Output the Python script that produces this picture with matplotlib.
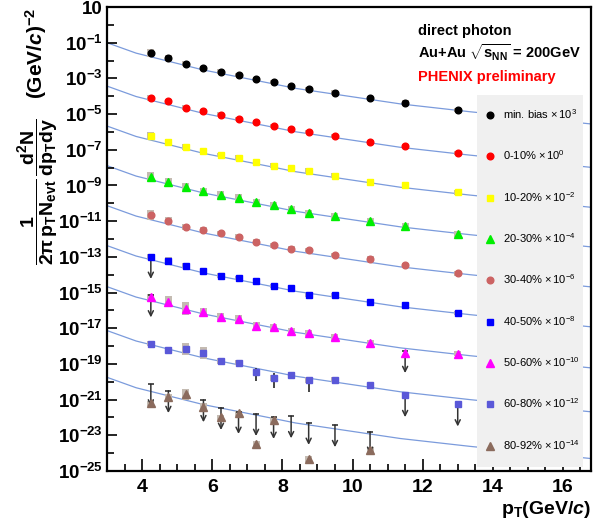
import numpy as np
import matplotlib.pyplot as plt
from matplotlib.patches import Rectangle
from matplotlib.ticker import FixedLocator, FuncFormatter, MultipleLocator, NullFormatter

plt.rcParams['font.family'] = ['Liberation Sans', 'DejaVu Sans']
plt.rcParams['font.weight'] = 'bold'
plt.rcParams['mathtext.fontset'] = 'custom'
plt.rcParams['mathtext.rm'] = 'Liberation Sans:bold'
plt.rcParams['mathtext.bf'] = 'Liberation Sans:bold'
plt.rcParams['mathtext.it'] = 'Liberation Sans:italic:bold'
plt.rcParams['mathtext.default'] = 'rm'

# pT bin centres (GeV/c)
pt = [4.25, 4.75, 5.25, 5.75, 6.25, 6.75, 7.25, 7.75, 8.25, 8.75, 9.5, 10.5, 11.5, 13.0]

labels = ['min. bias', '0-10%', '10-20%', '20-30%', '30-40%', '40-50%', '50-60%', '60-80%', '80-92%']
scale_exp = [3, 0, -2, -4, -6, -8, -10, -12, -14]
colors = ['black', '#ff0000', '#ffff00', '#00ee00', '#cc6363', '#0000ff', '#ff00ff', '#5a58d8', '#8b6b5d']
markers = ['o', 'o', 's', '^', 'o', 's', '^', 's', '^']

# scaled invariant yields
y_mb = [2.6e-2, 1.35e-2, 6.5e-3, 3.8e-3, 2.4e-3, 1.55e-3, 9.3e-4, 6.0e-4, 3.9e-4, 2.6e-4, 1.6e-4, 7.8e-5, 4.4e-5, 1.7e-5]
y_0010 = [7.8e-5, 5.2e-5, 2.3e-5, 1.4e-5, 9.3e-6, 5.5e-6, 3.6e-6, 2.2e-6, 1.5e-6, 9.5e-7, 5.7e-7, 2.6e-7, 1.6e-7, 6.3e-8]
y_1020 = [5.9e-7, 2.7e-7, 1.4e-7, 8.5e-8, 5.1e-8, 3.6e-8, 2.1e-8, 1.3e-8, 9.2e-9, 6.8e-9, 3.5e-9, 1.6e-9, 1.0e-9, 4.2e-10]
y_2030 = [3.1e-9, 1.6e-9, 8.5e-10, 4.7e-10, 2.9e-10, 2.1e-10, 1.2e-10, 8.1e-11, 5.0e-11, 2.8e-11, 1.95e-11, 1.07e-11, 5.4e-12, 1.9e-12]
y_3040 = [2.2e-11, 1.07e-11, 4.9e-12, 3.2e-12, 2.2e-12, 1.35e-12, 7.1e-13, 4.5e-13, 2.9e-13, 2.4e-13, 1.28e-13, 7.9e-14, 3.4e-14, 1.2e-14]
y_4050 = [1.02e-13, 5.9e-14, 3.2e-14, 1.62e-14, 8.9e-15, 6.6e-15, 4.3e-15, 2.4e-15, 1.8e-15, 7.3e-16, 7.6e-16, 3.0e-16, 2.0e-16, 7.2e-17]
y_5060 = [5.5e-16, 3.0e-16, 1.26e-16, 8.1e-17, 4.5e-17, 3.3e-17, 1.35e-17, 1.14e-17, 6.8e-18, 5.6e-18, 3.1e-18, 1.56e-18, 4.0e-19, 3.8e-19]
y_6080 = [1.38e-18, 6.0e-19, 6.9e-19, 4.1e-19, 1.47e-19, 1.2e-19, 3.4e-20, 1.65e-20, 2.5e-20, 1.23e-20, 1.32e-20, 6.4e-21, 1.83e-21, 5.5e-22]
y_8092 = [6.3e-22, 1.35e-21, 2.0e-21, 4.1e-22, 1.03e-22, 1.73e-22, 3.3e-24, 7.3e-23, np.nan, 4.6e-25, np.nan, 1.5e-24, np.nan, np.nan]
yields = [y_mb, y_0010, y_1020, y_2030, y_3040, y_4050, y_5060, y_6080, y_8092]

# systematic box half-heights (decades)
syst_mb = [0.22, 0.16, 0.14, 0.12, 0.12, 0.12, 0.12, 0.12, 0.12, 0.12, 0.12, 0.12, 0.12, 0.12]
syst_0010 = [0.18, 0.15, 0.13, 0.12, 0.12, 0.12, 0.12, 0.12, 0.12, 0.12, 0.12, 0.12, 0.12, 0.12]
syst_1020 = [0.22, 0.18, 0.16, 0.14, 0.13, 0.13, 0.13, 0.13, 0.13, 0.13, 0.13, 0.13, 0.13, 0.13]
syst_2030 = [0.25, 0.22, 0.2, 0.2, 0.2, 0.2, 0.18, 0.16, 0.15, 0.15, 0.15, 0.15, 0.15, 0.15]
syst_3040 = [0.28, 0.2, 0.16, 0.14, 0.13, 0.13, 0.13, 0.13, 0.13, 0.13, 0.13, 0.13, 0.13, 0.13]
syst_4050 = [0.15, 0.22, 0.15, 0.12, 0.12, 0.12, 0.12, 0.12, 0.12, 0.12, 0.12, 0.12, 0.12, 0.12]
syst_5060 = [0.2, 0.31, 0.36, 0.23, 0.22, 0.2, 0.2, 0.2, 0.18, 0.18, 0.18, 0.16, 0.0, 0.16]
syst_6080 = [0.15, 0.15, 0.32, 0.31, 0.15, 0.15, 0.15, 0.15, 0.15, 0.15, 0.15, 0.15, 0.0, 0.0]
syst_8092 = [0.15, 0.2, 0.3, 0.2, 0.15, 0.15, 0.15, 0.15, 0.0, 0.15, 0.0, 0.15, 0.0, 0.0]
systs = [syst_mb, syst_0010, syst_1020, syst_2030, syst_3040, syst_4050, syst_5060, syst_6080, syst_8092]

# upper limits (x, top of arrow)
ul_x = [4.25, 4.25, 11.5, 11.5, 13.0,
        4.25, 4.75, 5.75, 6.25, 6.75, 7.25, 7.75, 8.25, 8.75, 9.5, 10.5]
ul_top = [1.02e-13, 7.1e-16, 5.4e-19, 1.83e-21, 5.5e-22,
          7.2e-21, 3.1e-21, 9.5e-22, 3.5e-22, 2.1e-22, 1.6e-22, 1.1e-22, 1.2e-22, 5.1e-23, 3.8e-23, 1.6e-23]

# 60-80% statistical error bars
err_x = [7.25, 7.75, 8.25, 8.75]
err_lo = [1.15e-20, 4.4e-21, 1.4e-20, 2.7e-21]
err_hi = [6.0e-20, 3.0e-20, 3.7e-20, 1.95e-20]

# fit curve for min. bias, and relative scale of the other classes
fit_x = [3.0, 3.83, 5.75, 7.75, 8.38, 11.37, 13.35, 16.8]
fit_mb = [1.0e-1, 2.6e-2, 2.95e-3, 4.9e-4, 2.75e-4, 3.7e-5, 1.35e-5, 2.8e-6]
fit_scale = [1, 3.7e-3, 2.14e-5, 1.29e-7, 7.4e-10, 4.27e-12, 2.14e-14, 7.4e-17, 1.78e-19]

fig = plt.figure(figsize=(6.03, 5.25), dpi=100)
ax = fig.add_axes([107 / 603, 54 / 525, 484 / 603, 464 / 525])
ax.set_yscale('log')
ax.set_xlim(3, 16.8)
ax.set_ylim(1e-25, 10)

for s in fit_scale:
    ax.plot(fit_x, np.array(fit_mb) * s, color='#7b9bdc', lw=0.9, zorder=1)

handles = []
for i in range(len(labels)):
    y = np.array(yields[i])
    h = np.array(systs[i])
    ok = ~np.isnan(y) & (h > 0)
    lo = y * 10 ** (-h)
    hi = y * 10 ** h
    ax.bar(np.array(pt)[ok], (hi - lo)[ok], bottom=lo[ok], width=0.2, color='#c4bbb2', zorder=2)
    ms = {'^': 5.5, 's': 5.0, 'o': 4.8}[markers[i]]
    line, = ax.plot(pt, y, ls='none', marker=markers[i], ms=ms, color=colors[i], mec=colors[i], zorder=4,
                    label=r'%s $\mathregular{\times\,10^{%d}}$' % (labels[i], scale_exp[i]))
    handles.append(line)

ax.vlines(err_x, err_lo, err_hi, color='0.15', lw=1.2, zorder=3)
for x, top in zip(ul_x, ul_top):
    ax.annotate('', xy=(x, top), xytext=(0, -16), textcoords='offset points',
                arrowprops=dict(arrowstyle='<-', color='0.2', lw=1.1, shrinkA=0, shrinkB=0,
                                mutation_scale=9), zorder=3)
ax.plot(ul_x, ul_top, ls='none', marker='_', ms=5, mew=1.1, color='0.15', zorder=3)

# axes styling
ax.yaxis.set_major_locator(FixedLocator(10.0 ** np.arange(-25, 2, 2)))
ax.yaxis.set_minor_locator(FixedLocator(10.0 ** np.arange(-24, 1, 2)))
ax.yaxis.set_minor_formatter(NullFormatter())


def yfmt(v, pos):
    e = int(round(np.log10(v)))
    if e == 1:
        return '10'
    return r'$\mathregular{10^{%d}}$' % e


ax.yaxis.set_major_formatter(FuncFormatter(yfmt))
ax.xaxis.set_major_locator(MultipleLocator(2))
ax.xaxis.set_minor_locator(MultipleLocator(0.5))
ax.tick_params(which='both', direction='in', top=False, right=False, width=1.2)
ax.tick_params(axis='y', which='major', length=7, labelsize=13.5, pad=3)
ax.tick_params(axis='y', which='minor', length=5)
ax.tick_params(axis='x', which='major', length=9, labelsize=14, pad=6)
ax.tick_params(axis='x', which='minor', length=5)
for sp in ax.spines.values():
    sp.set_linewidth(1.6)

# legend panel
ax.add_patch(Rectangle((477 / 603, 58 / 525), 106 / 603, 372 / 525, transform=fig.transFigure,
                       facecolor='#f0f0f0', edgecolor='none', zorder=5, clip_on=False))
leg = ax.legend(handles=handles, loc='upper left', bbox_to_anchor=(484.5 / 603, 1 - 107 / 525),
                bbox_transform=fig.transFigure, frameon=False, borderpad=0, borderaxespad=0,
                handlelength=1.0, handletextpad=0.67, labelspacing=2.48,
                prop={'family': 'Liberation Sans', 'weight': 'normal', 'size': 8})
leg.set_zorder(6)

fig.text(418 / 603, 1 - 31 / 525, 'direct photon', fontsize=10.5, va='center')
fig.text(418 / 603, 1 - 53 / 525, r'Au+Au $\sqrt{s_{NN}}$ = 200GeV', fontsize=10.5, va='center')
fig.text(418 / 603, 1 - 77 / 525, 'PHENIX preliminary', fontsize=10.5, va='center', color='red')

fig.text(591 / 603, 1 - 510 / 525, r'p$_{T}$(GeV/$\mathit{c}$)', fontsize=14, ha='right', va='center')
fig.text(38 / 603, 1 - 192 / 525, r'$\dfrac{1}{2\pi\,p_{T}N_{evt}}\,\dfrac{d^{2}N}{dp_{T}dy}$',
         fontsize=14, rotation=90, ha='center', va='center')
fig.text(36 / 603, 1 - 53 / 525, r'(GeV/$\mathit{c}$)$^{-2}$', fontsize=15, rotation=90,
         ha='center', va='center')

fig.savefig('out.png', dpi=100)
